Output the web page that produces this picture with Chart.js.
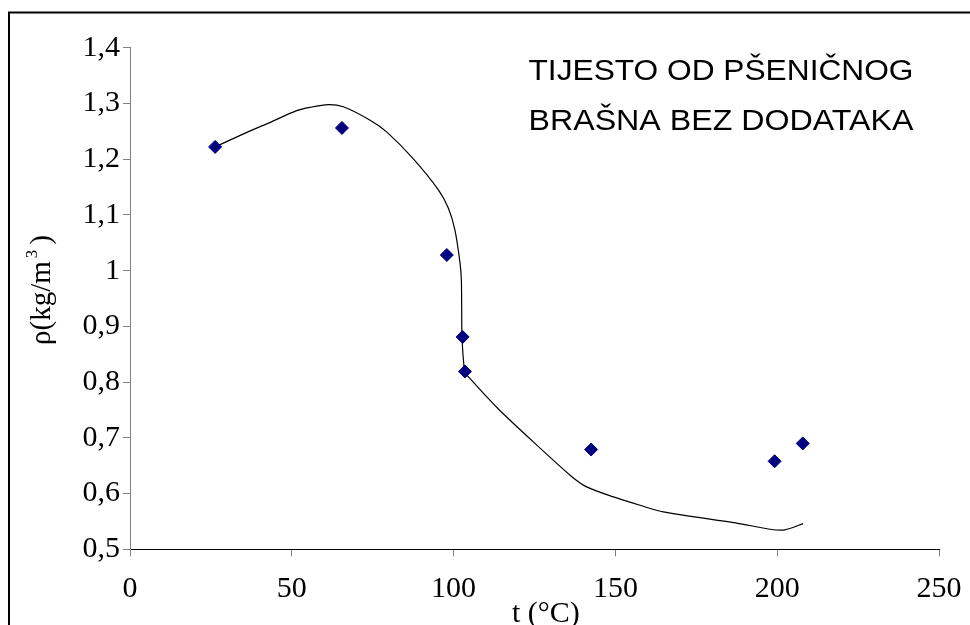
<!DOCTYPE html>
<html>
<head>
<meta charset="utf-8">
<script src="https://cdn.jsdelivr.net/npm/chart.js@4/dist/chart.umd.min.js"></script>
<style>
  html, body { margin: 0; padding: 0; background: #fff; }
  #c { display: block; }
</style>
</head>
<body>
<canvas id="c" width="970" height="625"></canvas>
<script>
// Measured points: temperature t (°C) and density rho
const pointT   = [26.3, 65.5, 97.9, 102.8, 103.5, 142.5, 199.2, 207.9];
const pointRho = [1.222, 1.256, 1.028, 0.881, 0.819, 0.679, 0.658, 0.690];

// Trend curve
const curveT   = [26.3, 36.1, 43.3, 51.5, 55.6, 61.3, 65.9, 74.2, 79.3, 87.5, 95.3, 98.4, 100.4, 102.0, 102.4, 102.5, 102.6, 103.5, 105.6, 114.3, 125.7, 136.0, 141.1, 149.4, 157.6, 164.8, 187.5, 197.8, 202.4, 208.0];
const curveRho = [1.222, 1.248, 1.266, 1.287, 1.293, 1.298, 1.294, 1.270, 1.249, 1.201, 1.145, 1.112, 1.073, 1.013, 0.983, 0.930, 0.881, 0.819, 0.803, 0.749, 0.687, 0.633, 0.612, 0.594, 0.579, 0.567, 0.547, 0.536, 0.535, 0.546];

// Tick labels
const xTicks = [0, 50, 100, 150, 200, 250];
const xTickLabels = ['0', '50', '100', '150', '200', '250'];
const yTicks = [0.5, 0.6, 0.7, 0.8, 0.9, 1.0, 1.1, 1.2, 1.3, 1.4];
const yTickLabels = ['0,5', '0,6', '0,7', '0,8', '0,9', '1', '1,1', '1,2', '1,3', '1,4'];

// Texts
const xTitle = 't (°C)';
const yTitleMain = 'ρ(kg/m';
const yTitleSup = '3';
const yTitleEnd = ')';
const noteLines = ['TIJESTO OD PŠENIČNOG', 'BRAŠNA BEZ DODATAKA'];

function labelFor(values, labels, v) {
  for (let i = 0; i < values.length; i++) {
    if (Math.abs(values[i] - v) < 1e-6) return labels[i];
  }
  return '';
}

const decorations = {
  id: 'decorations',
  beforeDraw(chart) {
    const ctx = chart.ctx;
    ctx.save();
    ctx.fillStyle = '#ffffff';
    ctx.fillRect(0, 0, chart.width, chart.height);
    ctx.strokeStyle = '#000000';
    ctx.lineWidth = 2;
    ctx.strokeRect(9, 12.5, 1100, 1100);
    ctx.restore();
  },
  afterDraw(chart) {
    const ctx = chart.ctx;
    ctx.save();
    ctx.fillStyle = '#000000';
    // annotation
    ctx.font = '30px "Liberation Sans", Arial, sans-serif';
    ctx.textBaseline = 'alphabetic';
    ctx.textAlign = 'left';
    const baselines = [79.5, 129.5];
    noteLines.forEach((line, i) => {
      const w = ctx.measureText(line).width;
      const sx = 385 / w;
      ctx.save();
      ctx.translate(528.5, baselines[i]);
      ctx.scale(sx, 1);
      ctx.fillText(line, 0, 0);
      ctx.restore();
    });
    // x title
    ctx.font = '30px "Liberation Serif", "Times New Roman", serif';
    ctx.fillText(xTitle, 512, 622);
    // y title (rotated)
    ctx.save();
    ctx.translate(50, 345);
    ctx.rotate(-Math.PI / 2);
    ctx.font = '29px "Liberation Serif", "Times New Roman", serif';
    ctx.fillText(yTitleMain, 0, 0);
    const w1 = ctx.measureText(yTitleMain).width;
    ctx.font = '17px "Liberation Serif", "Times New Roman", serif';
    ctx.fillText(yTitleSup, w1 + 3, -13);
    const w2 = ctx.measureText(yTitleSup).width;
    ctx.font = '29px "Liberation Serif", "Times New Roman", serif';
    ctx.fillText(yTitleEnd, w1 + 3 + w2 + 5, 0);
    ctx.restore();
    ctx.restore();
  }
};

new Chart(document.getElementById('c'), {
  type: 'scatter',
  data: {
    datasets: [
      {
        label: 'points',
        data: pointT.map((t, i) => ({ x: t, y: pointRho[i] })),
        pointStyle: 'rectRot',
        pointRadius: 6.5,
        pointHoverRadius: 6.5,
        backgroundColor: '#000080',
        borderColor: '#000080',
        borderWidth: 1,
        showLine: false
      },
      {
        label: 'curve',
        data: curveT.map((t, i) => ({ x: t, y: curveRho[i] })),
        showLine: true,
        pointRadius: 0,
        borderColor: '#000000',
        borderWidth: 1.2,
        tension: 0.25,
        fill: false
      }
    ]
  },
  options: {
    responsive: false,
    animation: false,
    devicePixelRatio: 1,
    layout: { padding: { left: 0, right: 31, top: 47.7, bottom: 0 } },
    plugins: { legend: { display: false }, tooltip: { enabled: false }, title: { display: false } },
    scales: {
      x: {
        type: 'linear',
        min: 0, max: 250,
        afterBuildTicks: s => { s.ticks = xTicks.map(v => ({ value: v })); },
        afterFit: s => { s.height = 625 - 549.3; s.paddingLeft = 0; s.paddingRight = 0; },
        border: { display: true, color: '#000000', width: 1 },
        grid: { drawOnChartArea: false, drawTicks: true, tickLength: 7, color: '#808080' },
        ticks: {
          padding: 15,
          color: '#000000',
          maxRotation: 0,
          autoSkip: false,
          font: { family: '"Liberation Serif", "Times New Roman", serif', size: 30 },
          callback: v => labelFor(xTicks, xTickLabels, v)
        }
      },
      y: {
        type: 'linear',
        min: 0.5, max: 1.4,
        afterBuildTicks: s => { s.ticks = yTicks.map(v => ({ value: v })); },
        afterFit: s => { s.width = 130; s.paddingTop = 0; s.paddingBottom = 0; },
        border: { display: true, color: '#808080', width: 1 },
        grid: { drawOnChartArea: false, drawTicks: true, tickLength: 7, color: '#808080' },
        ticks: {
          padding: 3,
          color: '#000000',
          autoSkip: false,
          font: { family: '"Liberation Serif", "Times New Roman", serif', size: 30 },
          callback: v => labelFor(yTicks, yTickLabels, v)
        }
      }
    }
  },
  plugins: [decorations]
});
</script>
</body>
</html>
